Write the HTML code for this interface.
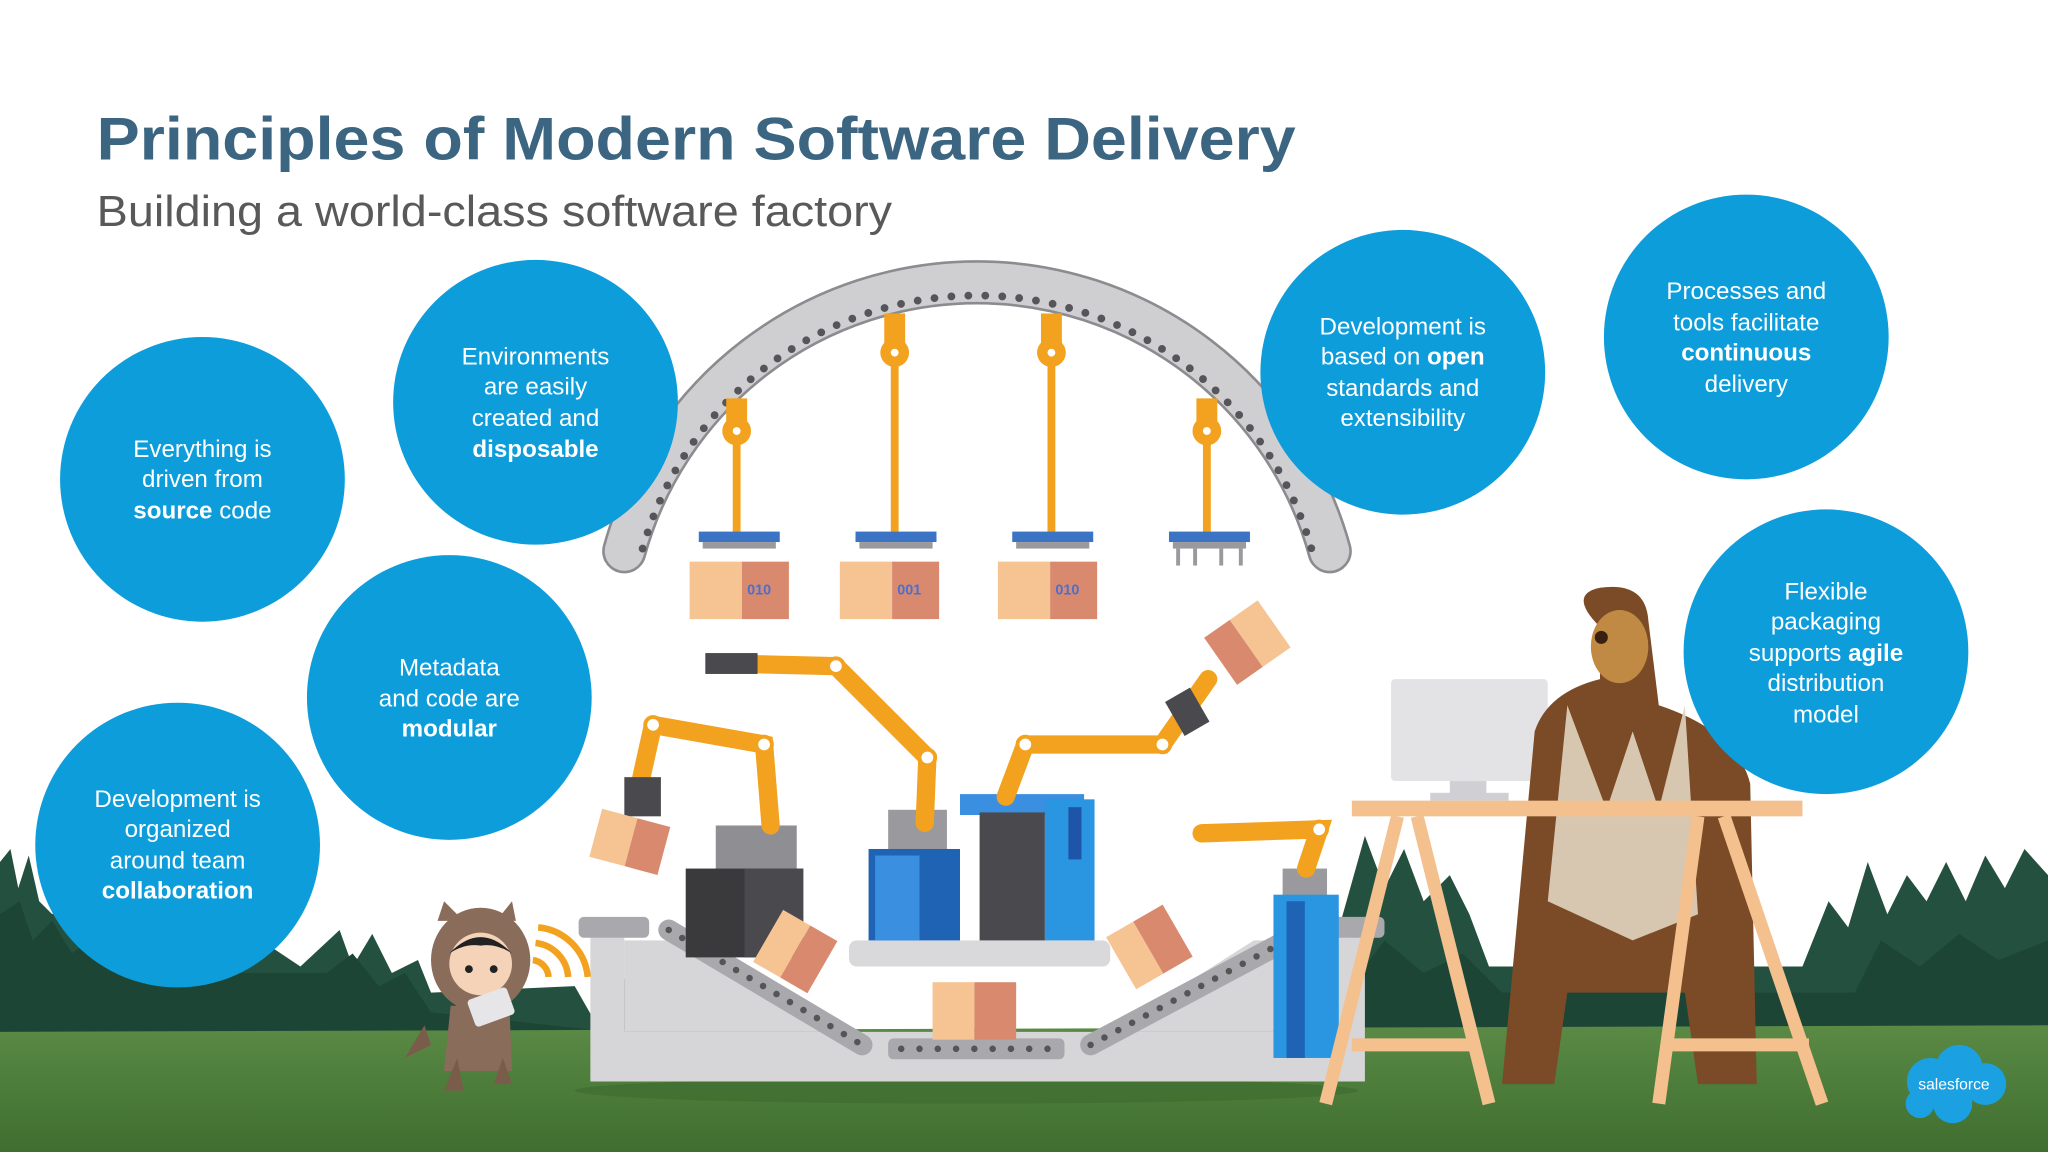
<!DOCTYPE html>
<html><head><meta charset="utf-8"><style>
html,body{margin:0;padding:0;background:#fff;}
svg{display:block;}
.c{font-family:"Liberation Sans",sans-serif;font-size:18.5px;fill:#fff;text-anchor:middle;}
.b{font-weight:bold;}
</style></head><body>
<svg width="2048" height="1152" viewBox="0 0 1568 882" xmlns="http://www.w3.org/2000/svg">
<defs>
<linearGradient id="g" x1="0" y1="0" x2="0" y2="1"><stop offset="0" stop-color="#5a8a45"/><stop offset="1" stop-color="#3f6e30"/></linearGradient>
</defs>
<rect width="1568" height="882" fill="#fff"/>
<!-- trees -->
<path fill="#24503f" d="M0 800 L0 660 L8 650 L14 680 L22 655 L30 690 L40 700 L52 690 L60 700 L70 680 L78 705 L90 690 L100 720 L200 720 L230 740 L260 712 L270 740 L285 715 L300 745 L320 735 L330 760 L440 755 L460 790 L480 745 L500 760 L520 750 L540 780 L560 800 L1000 800 L1045 640 L1060 680 L1075 650 L1090 690 L1110 670 L1125 700 L1140 740 L1380 740 L1400 690 L1415 710 L1430 660 L1445 700 L1460 670 L1475 690 L1490 660 L1505 690 L1520 655 L1535 680 L1550 650 L1568 670 L1568 800 Z"/>
<path fill="#1d4536" d="M0 800 L0 700 L15 690 L25 720 L40 705 L55 730 L75 715 L90 740 L110 725 L130 745 L250 745 L270 730 L290 755 L310 745 L330 775 L560 800 L1000 800 L1060 720 L1090 745 L1120 730 L1150 760 L1420 760 L1440 720 L1470 740 L1500 715 L1530 735 L1568 720 L1568 800 Z"/>
<!-- grass -->
<path fill="url(#g)" d="M0 790 L1568 785 L1568 882 L0 882 Z"/>
<ellipse cx="740" cy="835" rx="300" ry="10" fill="#3c6a2e" opacity="0.6"/>

<!-- title -->
<text x="74" y="122" font-family="Liberation Sans,sans-serif" font-weight="bold" font-size="46" fill="#3b6580" textLength="918" lengthAdjust="spacingAndGlyphs">Principles of Modern Software Delivery</text>
<text x="74" y="173" font-family="Liberation Sans,sans-serif" font-size="33" fill="#595959" textLength="609" lengthAdjust="spacingAndGlyphs">Building a world-class software factory</text>

<!-- arch -->
<path d="M478 422 A280 280 0 0 1 1018 422" fill="none" stroke="#8c8c90" stroke-width="34" stroke-linecap="round"/>
<path d="M478 422 A280 280 0 0 1 1018 422" fill="none" stroke="#cfcfd2" stroke-width="30" stroke-linecap="round"/>
<path d="M492 420 A266 266 0 0 1 1004 420" fill="none" stroke="#55555a" stroke-width="6" stroke-dasharray="0 13" stroke-linecap="round"/>

<!-- hangers -->
<g fill="#f2a21e">
<rect x="561" y="322" width="6" height="90"/><circle cx="564" cy="330" r="11"/><rect x="556" y="305" width="16" height="25"/>
<rect x="682" y="262" width="6" height="150"/><circle cx="685" cy="270" r="11"/><rect x="677" y="240" width="16" height="30"/>
<rect x="802" y="262" width="6" height="150"/><circle cx="805" cy="270" r="11"/><rect x="797" y="240" width="16" height="30"/>
<rect x="921" y="322" width="6" height="90"/><circle cx="924" cy="330" r="11"/><rect x="916" y="305" width="16" height="25"/>
</g>
<g fill="#fff"><circle cx="564" cy="330" r="3"/><circle cx="685" cy="270" r="3"/><circle cx="805" cy="270" r="3"/><circle cx="924" cy="330" r="3"/></g>
<g>
<rect x="535" y="407" width="62" height="8" fill="#3b74c4"/><rect x="655" y="407" width="62" height="8" fill="#3b74c4"/><rect x="775" y="407" width="62" height="8" fill="#3b74c4"/><rect x="895" y="407" width="62" height="8" fill="#3b74c4"/>
<g fill="#9a9a9e"><rect x="538" y="415" width="56" height="5"/><rect x="658" y="415" width="56" height="5"/><rect x="778" y="415" width="56" height="5"/><rect x="898" y="415" width="56" height="5"/></g>
<g stroke="#9a9a9e" stroke-width="3"><line x1="902" y1="420" x2="902" y2="433"/><line x1="915" y1="420" x2="915" y2="433"/><line x1="935" y1="420" x2="935" y2="433"/><line x1="950" y1="420" x2="950" y2="433"/></g>
</g>
<g fill="#f6c393"><rect x="528" y="430" width="40" height="44"/><rect x="643" y="430" width="40" height="44"/><rect x="764" y="430" width="40" height="44"/></g>
<g fill="#d98a6e"><rect x="568" y="430" width="36" height="44"/><rect x="683" y="430" width="36" height="44"/><rect x="804" y="430" width="36" height="44"/></g>
<g font-family="Liberation Sans,sans-serif" font-size="11" fill="#4a6fd0" font-weight="bold"><text x="572" y="455">010</text><text x="687" y="455">001</text><text x="808" y="455">010</text></g>

<!-- factory base -->
<path fill="#d6d6d8" d="M452 712 L478 712 L478 790 L1020 790 L1020 712 L1045 712 L1045 828 L452 828 Z"/>
<path fill="#d6d6d8" d="M478 720 L540 720 L650 790 L478 790 Z"/>
<path fill="#d6d6d8" d="M1020 720 L960 720 L850 790 L1020 790 Z"/>
<rect x="443" y="702" width="54" height="16" rx="4" fill="#a9a9ad"/>
<rect x="1000" y="702" width="60" height="16" rx="4" fill="#a9a9ad"/>
<line x1="512" y1="712" x2="660" y2="800" stroke="#a9a9ad" stroke-width="16" stroke-linecap="round"/>
<line x1="512" y1="712" x2="660" y2="800" stroke="#555" stroke-width="5" stroke-dasharray="0 12" stroke-linecap="round"/>
<line x1="835" y1="800" x2="1000" y2="712" stroke="#a9a9ad" stroke-width="16" stroke-linecap="round"/>
<line x1="835" y1="800" x2="1000" y2="712" stroke="#555" stroke-width="5" stroke-dasharray="0 12" stroke-linecap="round"/>
<rect x="680" y="795" width="135" height="16" rx="4" fill="#a9a9ad"/>
<line x1="690" y1="803" x2="810" y2="803" stroke="#555" stroke-width="5" stroke-dasharray="0 14" stroke-linecap="round"/>
<rect x="650" y="720" width="200" height="20" rx="6" fill="#d9d9db"/>

<!-- machines -->
<rect x="548" y="632" width="62" height="35" fill="#8f8f93"/>
<rect x="525" y="665" width="90" height="68" fill="#3a3a3d"/><rect x="570" y="665" width="45" height="68" fill="#4a4a4e"/>
<rect x="680" y="620" width="45" height="32" fill="#9a9a9e"/>
<rect x="665" y="650" width="70" height="70" fill="#1e63b4"/><rect x="670" y="655" width="34" height="65" fill="#3a8fe0"/>
<rect x="735" y="608" width="95" height="16" fill="#3a8fe0"/>
<rect x="750" y="622" width="50" height="98" fill="#4a4a4e"/>
<rect x="800" y="612" width="38" height="108" fill="#2a95e0"/><rect x="818" y="618" width="10" height="40" fill="#1e55a8"/>
<rect x="982" y="665" width="34" height="22" fill="#9a9a9e"/>
<rect x="975" y="685" width="50" height="125" fill="#2a95e0"/><rect x="985" y="690" width="14" height="120" fill="#1e63b4"/>

<!-- arms -->
<g stroke="#f2a21e" stroke-width="14" stroke-linecap="round" fill="none">
<polyline points="500,555 585,570 590,632"/>
<polyline points="500,555 490,600"/>
<polyline points="555,508 640,510 710,580 708,630"/>
<polyline points="785,570 890,570 925,520"/>
<polyline points="785,570 770,610"/>
<polyline points="920,638 1010,635 1000,665"/>
</g>
<g fill="#4a4a4e"><rect x="478" y="595" width="28" height="30"/><rect x="540" y="500" width="40" height="16"/><rect x="898" y="530" width="22" height="30" transform="rotate(-30 909 545)"/></g>
<g fill="#fff" stroke="#f2a21e" stroke-width="3"><circle cx="500" cy="555" r="6"/><circle cx="585" cy="570" r="6"/><circle cx="640" cy="510" r="6"/><circle cx="710" cy="580" r="6"/><circle cx="785" cy="570" r="6"/><circle cx="890" cy="570" r="6"/><circle cx="1010" cy="635" r="6"/></g>
<!-- flying boxes -->
<g transform="rotate(15 480 645)"><rect x="455" y="625" width="28" height="38" fill="#f6c393"/><rect x="483" y="625" width="26" height="38" fill="#d98a6e"/></g>
<g transform="rotate(-35 955 492)"><rect x="930" y="470" width="24" height="44" fill="#d98a6e"/><rect x="954" y="470" width="26" height="44" fill="#f6c393"/></g>
<g transform="rotate(30 608 728)"><rect x="585" y="705" width="24" height="46" fill="#f6c393"/><rect x="609" y="705" width="24" height="46" fill="#d98a6e"/></g>
<g transform="rotate(-30 880 725)"><rect x="855" y="702" width="24" height="46" fill="#f6c393"/><rect x="879" y="702" width="26" height="46" fill="#d98a6e"/></g>
<rect x="714" y="752" width="32" height="44" fill="#f6c393"/><rect x="746" y="752" width="32" height="44" fill="#d98a6e"/>

<!-- astro -->
<g>
<ellipse cx="368" cy="735" rx="38" ry="40" fill="#8a6c5a"/>
<path d="M335 705 L340 690 L355 705 Z M395 705 L392 690 L380 705 Z" fill="#8a6c5a"/>
<circle cx="368" cy="738" r="24" fill="#f4d3b8"/>
<path d="M344 730 Q368 705 392 730 Q380 722 368 724 Q356 722 344 730 Z" fill="#222"/>
<circle cx="359" cy="742" r="3" fill="#222"/><circle cx="378" cy="742" r="3" fill="#222"/>
<path d="M345 770 L390 770 L392 820 L340 820 Z" fill="#8a6c5a"/>
<rect x="360" y="760" width="32" height="22" rx="3" fill="#e6e6e8" transform="rotate(-20 376 771)"/>
<path d="M350 810 L340 835 L355 835 Z M385 810 L392 830 L378 830 Z" fill="#7a5c4a"/>
<path d="M325 785 L310 810 L330 800 Z" fill="#7a5c4a"/>
<g fill="none" stroke="#f2a21e" stroke-width="5"><path d="M408 735 A14 14 0 0 1 420 748"/><path d="M410 722 A28 28 0 0 1 435 748"/><path d="M412 710 A42 42 0 0 1 450 748"/></g>
</g>

<!-- desk & bear -->
<rect x="1065" y="520" width="120" height="78" rx="3" fill="#e3e3e6"/>
<rect x="1110" y="598" width="28" height="10" fill="#d0d0d4"/><rect x="1095" y="607" width="60" height="6" fill="#d0d0d4"/>
<path d="M1225 480 Q1200 455 1225 450 Q1260 445 1262 475 L1270 540 Q1330 560 1340 600 L1345 830 L1300 830 L1290 760 L1200 760 L1190 830 L1150 830 L1175 560 Q1185 530 1225 520 Z" fill="#7a4b26"/>
<ellipse cx="1240" cy="495" rx="22" ry="28" fill="#c08a45"/>
<circle cx="1226" cy="488" r="5" fill="#3a2010"/>
<path d="M1200 540 L1230 620 L1250 560 L1270 620 L1290 540 L1300 700 L1250 720 L1185 690 Z" fill="#e2d5c0" opacity="0.9"/>
<rect x="1035" y="613" width="345" height="12" fill="#f3c08e"/>
<g stroke="#f3c08e" stroke-width="10" fill="none">
<line x1="1070" y1="625" x2="1015" y2="845"/><line x1="1085" y1="625" x2="1140" y2="845"/>
<line x1="1300" y1="625" x2="1270" y2="845"/><line x1="1320" y1="625" x2="1395" y2="845"/>
<line x1="1035" y1="800" x2="1125" y2="800"/><line x1="1280" y1="800" x2="1385" y2="800"/>
</g>

<!-- salesforce logo -->
<g fill="#1ba1e2">
<circle cx="1478" cy="828" r="18"/><circle cx="1500" cy="818" r="18"/><circle cx="1520" cy="830" r="16"/><circle cx="1495" cy="845" r="15"/><circle cx="1470" cy="845" r="11"/>
</g>
<text x="1496" y="834" font-family="Liberation Sans,sans-serif" font-size="12" fill="#fff" text-anchor="middle">salesforce</text>

<!-- circles -->
<g fill="#0d9ddb">
<circle cx="155" cy="367" r="109"/>
<circle cx="410" cy="308" r="109"/>
<circle cx="344" cy="534" r="109"/>
<circle cx="136" cy="647" r="109"/>
<circle cx="1074" cy="285" r="109"/>
<circle cx="1337" cy="258" r="109"/>
<circle cx="1398" cy="499" r="109"/>
</g>
<text class="c"><tspan x="155" y="350">Everything is</tspan><tspan x="155" y="373">driven from</tspan><tspan x="155" y="397"><tspan class="b">source</tspan> code</tspan></text>
<text class="c"><tspan x="410" y="279">Environments</tspan><tspan x="410" y="302">are easily</tspan><tspan x="410" y="326">created and</tspan><tspan x="410" y="350" class="b">disposable</tspan></text>
<text class="c"><tspan x="344" y="517">Metadata</tspan><tspan x="344" y="541">and code are</tspan><tspan x="344" y="564" class="b">modular</tspan></text>
<text class="c"><tspan x="136" y="618">Development is</tspan><tspan x="136" y="641">organized</tspan><tspan x="136" y="665">around team</tspan><tspan x="136" y="688" class="b">collaboration</tspan></text>
<text class="c"><tspan x="1074" y="256">Development is</tspan><tspan x="1074" y="279">based on <tspan class="b">open</tspan></tspan><tspan x="1074" y="303">standards and</tspan><tspan x="1074" y="326">extensibility</tspan></text>
<text class="c"><tspan x="1337" y="229">Processes and</tspan><tspan x="1337" y="253">tools facilitate</tspan><tspan x="1337" y="276" class="b">continuous</tspan><tspan x="1337" y="300">delivery</tspan></text>
<text class="c"><tspan x="1398" y="459">Flexible</tspan><tspan x="1398" y="482">packaging</tspan><tspan x="1398" y="506">supports <tspan class="b">agile</tspan></tspan><tspan x="1398" y="529">distribution</tspan><tspan x="1398" y="553">model</tspan></text>
</svg>
</body></html>
